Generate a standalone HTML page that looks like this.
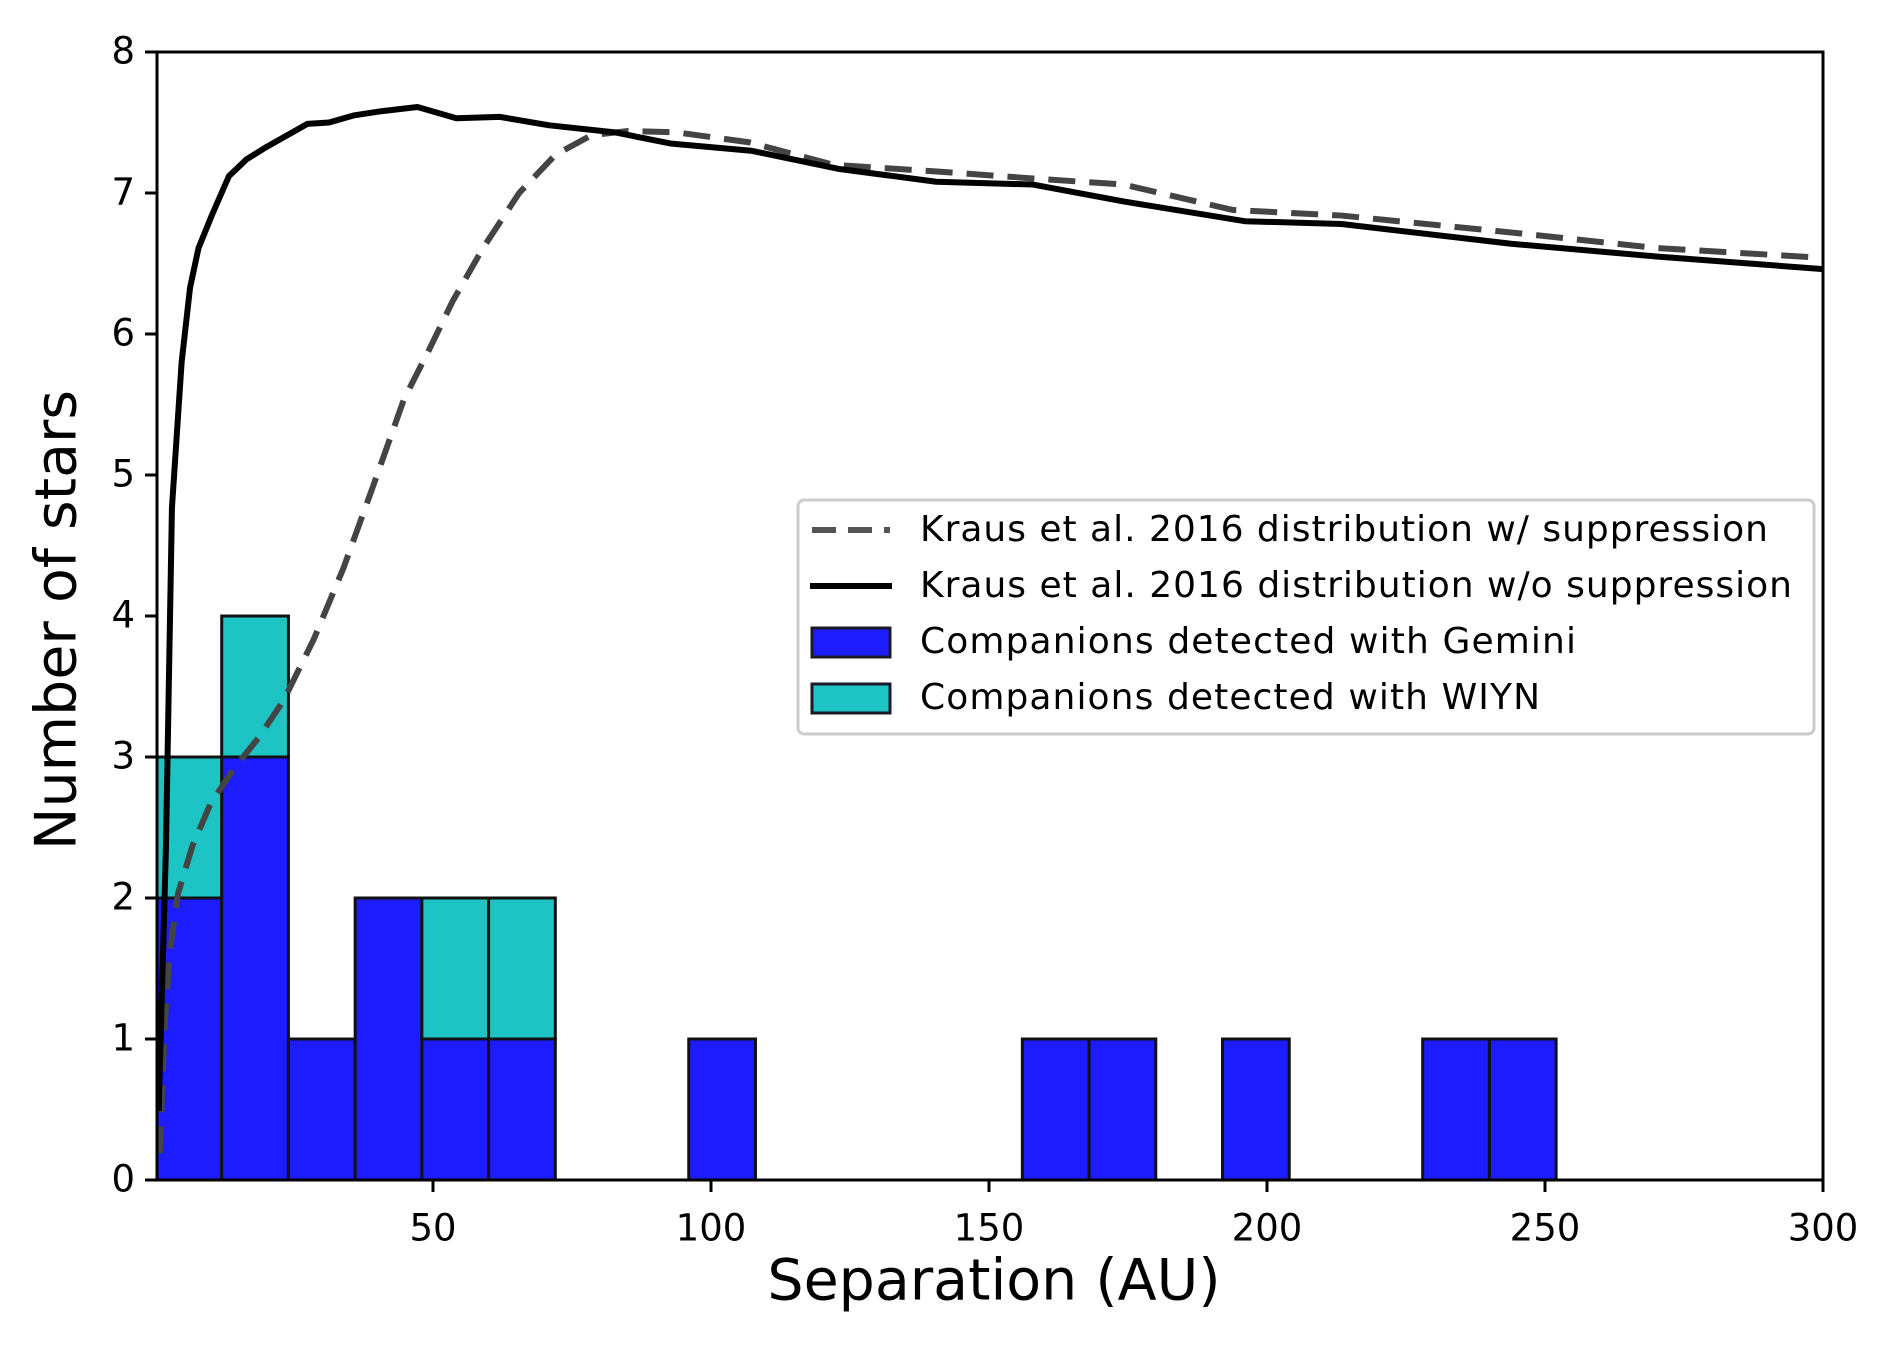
<!DOCTYPE html>
<html><head><meta charset="utf-8"><style>
html,body{margin:0;padding:0;background:#fff;}
svg text{font-family:"DejaVu Sans","Liberation Sans",sans-serif;fill:#000;}
</style></head><body>
<svg id="chart" width="1895" height="1350" viewBox="0 0 1895 1350" xmlns="http://www.w3.org/2000/svg">
<rect width="1895" height="1350" fill="#fff"/>
<g id="bars"></g>
<g id="lines"></g>
<rect x="157" y="52" width="1666" height="1128" fill="none" stroke="#000" stroke-width="3"/>
<g id="ticks"></g>
<text x="60" y="620" font-size="57" text-anchor="middle" dominant-baseline="middle" transform="rotate(-90 60 620)">Number of stars</text>
<text x="994" y="1284" font-size="57" text-anchor="middle" dominant-baseline="middle">Separation (AU)</text>
<g>
<rect x="798" y="500" width="1016" height="234" rx="6" fill="#fff" stroke="#ccc" stroke-width="3"/>
<line x1="812" y1="530" x2="890" y2="530" stroke="#555" stroke-width="6" stroke-dasharray="24,12"/>
<text x="920" y="531" font-size="36" dominant-baseline="middle" textLength="848">Kraus et al. 2016 distribution w/ suppression</text>
<line x1="810" y1="586" x2="892" y2="586" stroke="#000" stroke-width="6"/>
<text x="920" y="587" font-size="36" dominant-baseline="middle" textLength="872">Kraus et al. 2016 distribution w/o suppression</text>
<rect x="812" y="628" width="78" height="29" fill="#1c1cff" stroke="#1a1a2a" stroke-width="3"/>
<text x="920" y="643" font-size="36" dominant-baseline="middle" textLength="656">Companions detected with Gemini</text>
<rect x="812" y="684" width="78" height="29" fill="#1ec4c4" stroke="#1a1a2a" stroke-width="3"/>
<text x="920" y="699" font-size="36" dominant-baseline="middle" textLength="620">Companions detected with WIYN</text>
</g>
</svg>
<script>
const binEdges=[0,12,24,36,48,60,72,84,96,108,120,132,144,156,168,180,192,204,216,228,240,252];
const geminiCounts=[2,3,1,2,1,1,0,0,1,0,0,0,0,1,1,0,1,0,0,1,1];
const wiynCounts=[1,1,0,0,1,1,0,0,0,0,0,0,0,0,0,0,0,0,0,0,0];
const solidX=[0.65,1.96,3.05,4.79,6.31,7.83,10.2,13.3,16.5,20.2,27.4,31.3,35.7,40.7,47.2,54.2,62.0,70.9,82.7,92.9,107.2,123.1,140.5,157.9,174.2,196,213.4,243.9,270,300];
const solidY=[0.49,2.34,4.77,5.80,6.33,6.61,6.84,7.12,7.24,7.33,7.49,7.50,7.55,7.58,7.61,7.53,7.54,7.48,7.43,7.35,7.30,7.17,7.08,7.06,6.94,6.80,6.78,6.64,6.55,6.46];
const dashX=[0.87,1.74,2.61,4.13,6.74,10.0,14.4,18.7,23.1,28.5,33.9,39.4,44.8,49.2,53.5,59.0,65.5,72.0,78.5,85.1,93.8,106.8,122.0,141.6,159.0,174.2,193.8,213.4,243.9,270,300];
const dashY=[0.19,1.09,1.60,2.03,2.37,2.67,2.93,3.14,3.40,3.83,4.34,4.94,5.54,5.88,6.23,6.61,7.00,7.27,7.41,7.44,7.43,7.36,7.20,7.15,7.10,7.06,6.88,6.84,6.72,6.61,6.54];
const xTicks=[50,100,150,200,250,300];
const yTicks=[0,1,2,3,4,5,6,7,8];
const XMIN=0.36,XMAX=300,YMIN=0,YMAX=8;
const L=157,R=1823,T=52,B=1180;
function sx(v){return L+(Math.max(v,XMIN)-XMIN)/(XMAX-XMIN)*(R-L);}
function sy(v){return B-(v-YMIN)/(YMAX-YMIN)*(B-T);}
const NS='http://www.w3.org/2000/svg';
function mk(tag,attrs,parent){const e=document.createElementNS(NS,tag);for(const k in attrs)e.setAttribute(k,attrs[k]);parent.appendChild(e);return e;}
const bars=document.getElementById('bars');
for(let i=0;i<geminiCounts.length;i++){
  const x0=sx(binEdges[i]),x1=sx(binEdges[i+1]);
  const g=geminiCounts[i],w=wiynCounts[i];
  if(g>0){const r=mk('rect',{x:x0,y:sy(g),width:x1-x0,height:sy(0)-sy(g),fill:'#1c1cff',stroke:'#111',"stroke-width":3},bars);
    
    }
  if(w>0){const r=mk('rect',{x:x0,y:sy(g+w),width:x1-x0,height:sy(g)-sy(g+w),fill:'#1ec4c4',stroke:'#111',"stroke-width":3},bars);
    
    }
}
const lines=document.getElementById('lines');
const dp=dashX.map((x,i)=>sx(x)+','+sy(dashY[i])).join(' ');
const dl=mk('polyline',{points:dp,fill:'none',stroke:'#444','stroke-width':6,'stroke-dasharray':'27,14'},lines);


const sp=solidX.map((x,i)=>sx(x)+','+sy(solidY[i])).join(' ');
const sl=mk('polyline',{points:sp,fill:'none',stroke:'#000','stroke-width':6,'stroke-linejoin':'round'},lines);


const ticks=document.getElementById('ticks');
xTicks.forEach(v=>{const x=sx(v);
  const t=mk('line',{x1:x,y1:B,x2:x,y2:B+12,stroke:'#000','stroke-width':3},ticks);
  
  
  const tx=mk('text',{x:x,y:B+50,'font-size':37,'text-anchor':'middle','dominant-baseline':'middle'},ticks);tx.textContent=v;
  
  });
yTicks.forEach(v=>{const y=sy(v);
  const t=mk('line',{x1:L-12,y1:y,x2:L,y2:y,stroke:'#000','stroke-width':3},ticks);
  
  
  const tx=mk('text',{x:L-22,y:y+1,'font-size':37,'text-anchor':'end','dominant-baseline':'middle'},ticks);tx.textContent=v;
  
  });
</script>
</body></html>
